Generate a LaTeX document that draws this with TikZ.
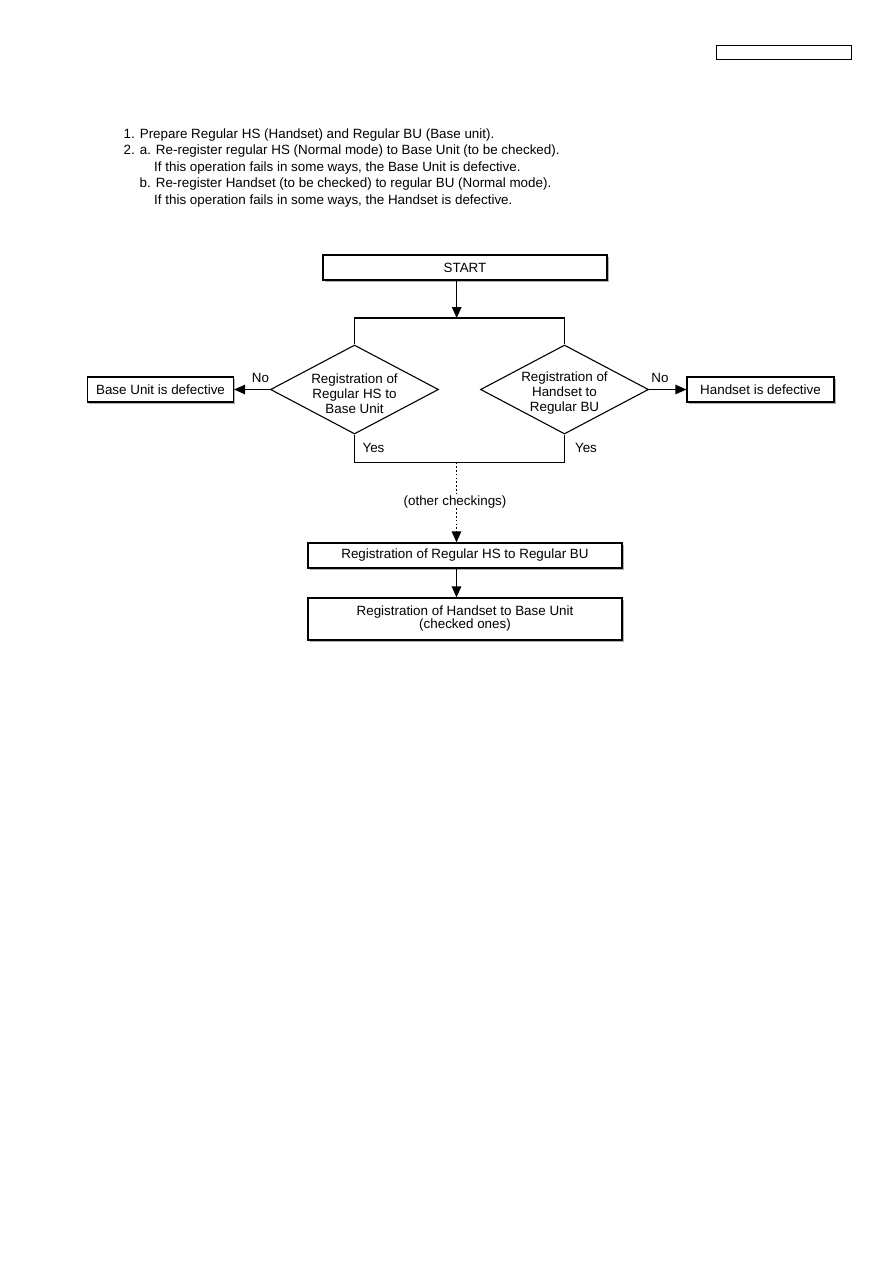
\documentclass[tikz,border=0pt]{standalone}
\usepackage{fontspec}
\setmainfont{Liberation Sans}
\usetikzlibrary{shapes.geometric,shadows,arrows.meta}
\begin{document}
\begin{tikzpicture}[x=1pt,y=-1pt,
  every node/.style={font=\fontsize{13.4}{15}\selectfont},
  para/.style={anchor=base west,inner sep=0},
  box/.style={draw,line width=1.2pt,fill=white,inner sep=0,align=center,
    drop shadow={shadow xshift=1.5pt,shadow yshift=-1.5pt,fill=black!30,opacity=1}},
  diam/.style={draw,line width=1.1pt,shape=diamond,inner sep=0,minimum width=168pt,minimum height=89pt},
  lbl/.style={inner sep=0},
  ln/.style={line width=1.1pt},
  tip/.style={-{Triangle[length=11pt,width=9.5pt]}},
  arr/.style={line width=1.2pt,tip},
  dot/.style={line width=1.3pt,dash pattern=on 1.6pt off 2.2pt}
]
\useasboundingbox (0,0) rectangle (893,1263);
% header box
\node[draw,line width=1.1pt,minimum width=135.5pt,minimum height=14pt,inner sep=0] (hdr) at (783.8,52.2) {};
% paragraph
\node[para] (p1) at (123.5,138) {1. Prepare Regular HS (Handset) and Regular BU (Base unit).};
\node[para] (p2) at (123.5,154.6) {2. a. Re-register regular HS (Normal mode) to Base Unit (to be checked).};
\node[para] (p3) at (154,171.2) {If this operation fails in some ways, the Base Unit is defective.};
\node[para] (p4) at (139.5,187.8) {b. Re-register Handset (to be checked) to regular BU (Normal mode).};
\node[para] (p5) at (154,204.4) {If this operation fails in some ways, the Handset is defective.};
% flowchart
\node[box,minimum width=284pt,minimum height=25pt] (start) at (465,267.5) {START};
\coordinate (sb) at (456.7,280);
\coordinate (st) at (456.7,318);
\coordinate (tl) at (354.5,318);
\coordinate (tr) at (564.5,318);
\node[diam] (d1) at (354.5,389.5) {};
\node[diam] (d2) at (564.5,389.5) {};
\node[lbl,align=center] (d1t) at (354.5,393.3) {Registration of\\Regular HS to\\Base Unit};
\node[lbl,align=center] (d2t) at (564.5,393.3) {Registration of\\Handset to\\Regular BU};
\node[box,minimum width=146pt,minimum height=25pt] (bu) at (160.5,389.5) {Base Unit is defective};
\node[box,minimum width=147pt,minimum height=25pt] (hs) at (760.5,389.5) {Handset is defective};
\draw[arr] (sb) -- (st);
\draw[ln] (d1.north) -- (tl) -- (tr) -- (d2.north);
\draw[arr] (d1.west) -- (bu.east);
\draw[arr] (d2.east) -- (hs.west);
\node[lbl] (no1) at (260.5,377.5) {No};
\node[lbl] (no2) at (660,377.5) {No};
\coordinate (bl) at (354.5,462.3);
\coordinate (br) at (564.5,462.3);
\coordinate (bm) at (456.5,462.3);
\draw[ln] (d1.south) -- (bl) -- (br) -- (d2.south);
\node[lbl] (y1) at (373.5,448) {Yes};
\node[lbl] (y2) at (586,448) {Yes};
\node[lbl] (oc) at (455,502) {(other checkings)};
\node[box,minimum width=314pt,minimum height=25pt] (r1) at (465,555.5) {Registration of Regular HS to Regular BU};
\node[box,minimum width=314pt,minimum height=42pt] (r2) at (465,619) {Registration of Handset to Base Unit\\[-2pt](checked ones)};
\draw[dot] (bm) -- (bm |- oc.north);
\draw[dot,tip] (bm |- oc.south) -- (r1.north -| bm);
\draw[arr] (r1.south -| bm) -- (r2.north -| bm);
\end{tikzpicture}
\end{document}
